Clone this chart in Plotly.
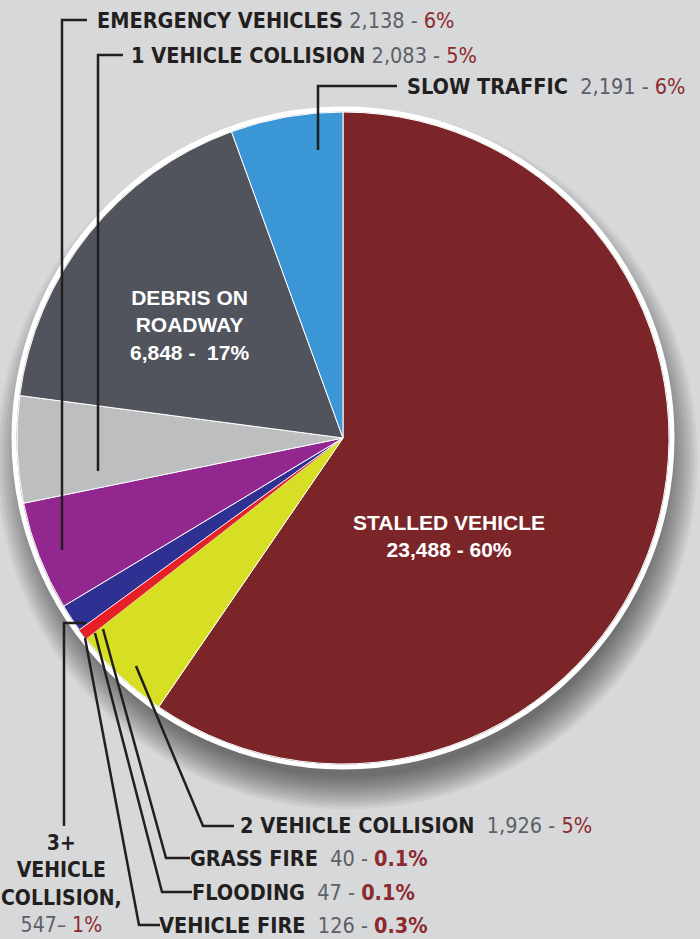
import plotly.graph_objects as go

# incident types, clockwise from 12 o'clock
causes = ["STALLED VEHICLE", "2 VEHICLE COLLISION", "GRASS FIRE", "FLOODING", "VEHICLE FIRE",
          "3+ VEHICLE COLLISION", "EMERGENCY VEHICLES", "1 VEHICLE COLLISION",
          "DEBRIS ON ROADWAY", "SLOW TRAFFIC"]
counts = [23488, 1926, 40, 47, 126, 547, 2138, 2083, 6848, 2191]
pct_text = ["60%", "5%", "0.1%", "0.1%", "0.3%", "1%", "6%", "5%", "17%", "6%"]
colors = ["#7b2529", "#d6df23", "#ed1c24", "#ed1c24", "#ed1c24",
          "#2e3192", "#92278f", "#bcbec0", "#51545c", "#3a96d4"]

W, H = 700, 939
CX, CY, R = 343, 438, 326

def px(x):
    return x / W

def py(y):
    return 1 - y / H

GRAY = "#5d5f66"
DRED = "#8c2a2e"
LINE = "#231f20"
OUTER_FONT = "DejaVu Sans Condensed, Liberation Sans Narrow, Arial Narrow, sans-serif"


def outer_label(i, gap="  "):
    p = pct_text[i]
    pct = "<b>%s</b>" % p if p.startswith("0.") else p
    return ("<b>%s</b>%s<span style='color:%s'>%s - </span><span style='color:%s'>%s</span>"
            % (causes[i], gap, GRAY, format(counts[i], ","), DRED, pct))


fig = go.Figure()
fig.add_trace(go.Pie(
    labels=causes, values=counts, sort=False, direction="clockwise", rotation=0,
    marker=dict(colors=colors, line=dict(color="white", width=[1, 1, 0, 0, 0, 1, 1, 1, 1, 1])),
    textinfo="none", hoverinfo="none", showlegend=False,
    domain=dict(x=[px(CX - R), px(CX + R)], y=[py(CY + R), py(CY - R)]),
))

shapes = []
# soft drop shadow under the pie
for k in range(14):
    r = 318 + k * 2.5
    shapes.append(dict(type="circle", xref="paper", yref="paper", layer="below",
                       x0=px(347 - r), x1=px(347 + r), y0=py(459 + r), y1=py(459 - r),
                       fillcolor="rgba(0,0,0,0.045)", line=dict(width=0)))
# white rim
rr = R + 3
shapes.append(dict(type="circle", xref="paper", yref="paper",
                   x0=px(CX - rr), x1=px(CX + rr), y0=py(CY + rr), y1=py(CY - rr),
                   line=dict(color="white", width=5)))

# leader lines (pixel points)
leaders = [
    [(87, 20), (62, 20), (62, 550)],          # emergency
    [(123, 55), (98, 55), (98, 471)],         # 1 vehicle
    [(397, 86), (318, 86), (318, 150)],       # slow traffic
    [(136, 666), (203, 826), (234, 826)],     # 2 vehicle
    [(103, 629), (166, 858), (190, 858)],     # grass fire
    [(95, 633), (162, 892), (192, 892)],      # flooding
    [(85, 638), (139, 925), (160, 925)],      # vehicle fire
    [(86, 623), (64, 623), (64, 826)],        # 3+
]
for pts in leaders:
    path = "M " + " L ".join("%f,%f" % (px(x), py(y)) for x, y in pts)
    shapes.append(dict(type="path", xref="paper", yref="paper", path=path,
                       line=dict(color=LINE, width=2.5)))

annotations = []
def add_outer(i, x, y, gap="  "):
    annotations.append(dict(text=outer_label(i, gap), x=px(x), y=py(y), xref="paper", yref="paper",
                            xanchor="left", yanchor="middle", showarrow=False,
                            font=dict(family=OUTER_FONT, size=21.5, color="#231f20")))

add_outer(6, 95, 20, " ")
add_outer(7, 129, 55, " ")
add_outer(9, 405, 86)
add_outer(1, 238, 825)
add_outer(2, 188, 858)
add_outer(3, 190, 892)
add_outer(4, 157, 925)

# 3+ vehicle collision, stacked
annotations.append(dict(
    text=("<b>3+</b><br><b>VEHICLE</b><br><b>COLLISION,</b><br><span style='color:%s'>%s– </span>"
          "<span style='color:%s'>%s</span>") % (GRAY, format(counts[5], ","), DRED, pct_text[5]),
    x=px(62), y=py(884), xref="paper", yref="paper", xanchor="center", yanchor="middle",
    showarrow=False, align="center",
    font=dict(family=OUTER_FONT, size=21, color="#231f20")))

# labels inside the big slices
INNER_FONT = dict(family="Liberation Sans, Arial, sans-serif", size=21, color="white")
annotations.append(dict(
    text="<b>DEBRIS ON<br>ROADWAY<br>%s -  %s</b>" % (format(counts[8], ","), pct_text[8]),
    x=px(190), y=py(325), xref="paper", yref="paper", xanchor="center", yanchor="middle",
    showarrow=False, align="center", font=INNER_FONT))
annotations.append(dict(
    text="<b>STALLED VEHICLE<br>%s - %s</b>" % (format(counts[0], ","), pct_text[0]),
    x=px(449), y=py(536), xref="paper", yref="paper", xanchor="center", yanchor="middle",
    showarrow=False, align="center", font=INNER_FONT))

fig.update_layout(
    width=W, height=H, margin=dict(l=0, r=0, t=0, b=0),
    paper_bgcolor="#d7d8da", plot_bgcolor="#d7d8da",
    shapes=shapes, annotations=annotations,
)

fig.write_html("out.html", config={"displayModeBar": False},
               post_script="document.body.style.margin='0';document.body.style.overflow='hidden';")
